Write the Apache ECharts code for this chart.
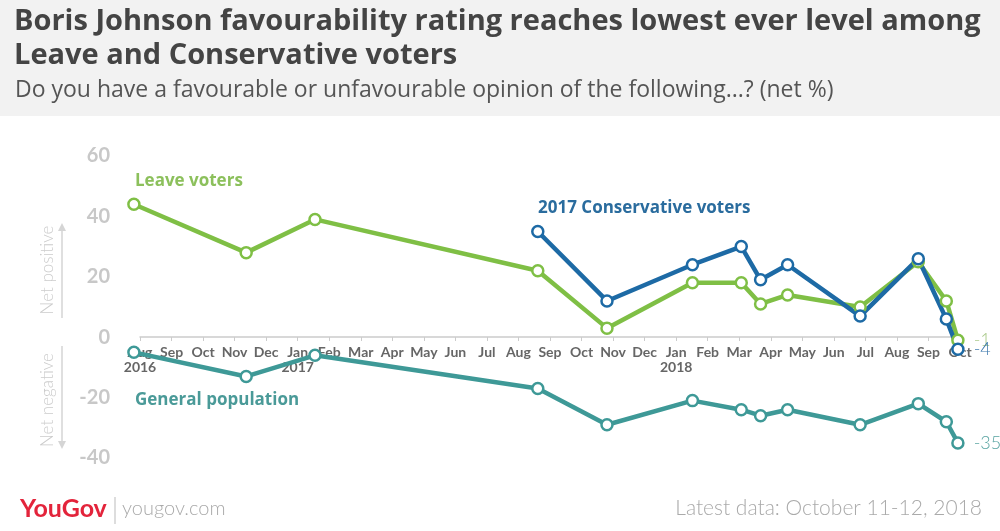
<!DOCTYPE html>
<html>
<head>
<meta charset="utf-8">
<script src="https://cdn.jsdelivr.net/npm/echarts@6/dist/echarts.min.js"></script>
<style>
html,body{margin:0;padding:0;background:#fff;}
#chart{width:1000px;height:531px;}
</style>
</head>
<body>
<div id="chart"></div>
<script>
// ---- data ----
var surveyDates = ['2016-07-26','2016-11-12','2017-01-18','2017-08-20','2017-10-26','2018-01-17','2018-03-03','2018-03-22','2018-04-17','2018-06-26','2018-08-22','2018-09-18','2018-09-29'];
var leaveVoters = [44, 28, 39, 22, 3, 18, 18, 11, 14, 10, 25, 12, -1];
var conservativeVoters = [null, null, null, 35, 12, 24, 30, 19, 24, 7, 26, 6, -4];
var generalPopulation = [-5, -13, -6, -17, -29, -21, -24, -26, -24, -29, -22, -28, -35];
var monthTickLabels = ['Aug\n2016','Sep','Oct','Nov','Dec','Jan\n2017','Feb','Mar','Apr','May','Jun','Jul','Aug','Sep','Oct','Nov','Dec','Jan\n2018','Feb','Mar','Apr','May','Jun','Jul','Aug','Sep','Oct'];
var yTicks = [-40, -20, 0, 20, 40, 60];

// month position (0 = Aug 2016)
function monthPos(s){
  var p = s.split('-').map(Number);
  var dim = new Date(p[0], p[1], 0).getDate();
  return (p[0]-2016)*12 + (p[1]-8) + (p[2]-1)/dim;
}
function pairs(vals){
  var out = [];
  for (var i=0;i<vals.length;i++){ if (vals[i]!==null) out.push([monthPos(surveyDates[i]), vals[i]]); }
  return out;
}

var FONT = 'Lato, "Open Sans", sans-serif';
var TFONT = '"Open Sans", Lato, sans-serif';
var GREEN = '#7fbf45', BLUE = '#1d6aa5', TEAL = '#3e9997';

function lineSeries(name, vals, color, endColor, endOffset){
  var d = pairs(vals);
  var last = d.length-1;
  return {
    name: name, type: 'line', data: d.map(function(p,i){
      if (i===last) return {value:p, label:{show:true, position:'right', distance:9, offset:endOffset, color:endColor, fontSize:18, fontFamily:FONT, fontWeight:300, formatter:function(o){return o.value[1];}}};
      return p;
    }),
    clip: false,
    symbol: 'circle', symbolSize: 11,
    itemStyle: {color:'#fff', borderColor: color, borderWidth: 2.5},
    lineStyle: {color: color, width: 4.5},
    labelLayout: {hideOverlap: false},
    emphasis: {disabled:true},
    z: 3
  };
}

var chart = echarts.init(document.getElementById('chart'));
chart.setOption({
  animation: false,
  backgroundColor: '#ffffff',
  grid: {left: 140, right: 40, top: 156, bottom: 73, containLabel:false},
  xAxis: {
    type: 'value', min: 0, max: 26, interval: 1,
    position: 'bottom', offset: -121,
    axisLine: {onZero: false, lineStyle: {color:'#cccccc', width:1.5}},
    axisTick: {show:true, length:4, lineStyle:{color:'#cccccc'}},
    splitLine: {show:false},
    axisLabel: {
      margin: 8, color:'#666666', fontSize: 14, fontWeight: 'bold', fontFamily: FONT, lineHeight: 15,
      formatter: function(v){ var i = Math.round(v); return Math.abs(v-i)<1e-6 ? (monthTickLabels[i]||'') : ''; }
    }
  },
  yAxis: {
    type: 'value', min: yTicks[0], max: yTicks[yTicks.length-1], interval: 20,
    axisLine: {show:false}, axisTick:{show:false}, splitLine:{show:false},
    axisLabel: {margin: 30, color:'#c8c8c8', fontSize: 20, fontWeight:'bold', fontFamily: FONT}
  },
  series: [
    lineSeries('Leave voters', leaveVoters, GREEN, '#a9c98a', [0,-2]),
    lineSeries('2017 Conservative voters', conservativeVoters, BLUE, '#3c78ad', [0,7]),
    lineSeries('General population', generalPopulation, TEAL, '#57a3a1', [0,1])
  ],
  graphic: [
    {type:'rect', shape:{x:0,y:0,width:1000,height:116}, style:{fill:'#f2f2f2'}, z:-10},
    {type:'text', left:14, top:7, style:{text:'Boris Johnson favourability rating reaches lowest ever level among', font:'bold 29px '+TFONT, fill:'#444444'}},
    {type:'text', left:14, top:41, style:{text:'Leave and Conservative voters', font:'bold 29px '+TFONT, fill:'#444444'}},
    {type:'text', left:15, top:79, style:{text:'Do you have a favourable or unfavourable opinion of the following...? (net %)', font:'23px '+TFONT, fill:'#555555'}},
    // series name labels
    {type:'text', left:135, top:173, style:{text:'Leave voters', font:'bold 17px '+TFONT, fill:'#8cc05c'}},
    {type:'text', left:538, top:200, style:{text:'2017 Conservative voters', font:'bold 17px '+TFONT, fill:'#2a6c9e'}},
    {type:'text', left:135, top:392, style:{text:'General population', font:'bold 17px '+TFONT, fill:'#4a9a98'}},
    // net positive / negative
    {type:'text', x:48, y:270, rotation:Math.PI/2, style:{text:'Net positive', font:'300 17px '+FONT, fill:'#cccccc', align:'center', verticalAlign:'middle'}},
    {type:'text', x:48, y:400, rotation:Math.PI/2, style:{text:'Net negative', font:'300 17px '+FONT, fill:'#cccccc', align:'center', verticalAlign:'middle'}},
    {type:'line', shape:{x1:62,y1:318,x2:62,y2:226}, style:{stroke:'#d5d5d5', lineWidth:1.5}},
    {type:'polygon', shape:{points:[[58,231],[66,231],[62,223]]}, style:{fill:'#d5d5d5'}},
    {type:'line', shape:{x1:62,y1:346,x2:62,y2:446}, style:{stroke:'#d5d5d5', lineWidth:1.5}},
    {type:'polygon', shape:{points:[[58,441],[66,441],[62,449]]}, style:{fill:'#d5d5d5'}},
    // footer
    {type:'text', left:20, top:496, style:{text:'YouGov', font:'bold 25px '+FONT, fill:'#e3243b'}},
    {type:'line', shape:{x1:115,y1:497,x2:115,y2:524}, style:{stroke:'#bbbbbb', lineWidth:1}},
    {type:'text', left:122, top:499, style:{text:'yougov.com', font:'300 20px '+FONT, fill:'#aaaaaa'}},
    {type:'text', right:18, top:498, style:{text:'Latest data: October 11-12, 2018', font:'300 21px '+FONT, fill:'#aaaaaa'}}
  ]
});
</script>
</body>
</html>
